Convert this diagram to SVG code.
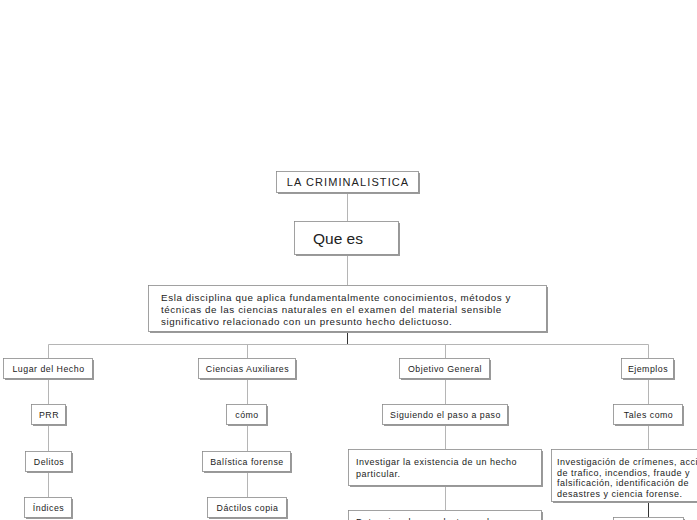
<svg xmlns="http://www.w3.org/2000/svg" width="697" height="520" viewBox="0 0 697 520">
<style>
.sh{fill:#9a9a9a}
.bx{fill:#fff;stroke:#8a8a8a;stroke-width:0.8}
.t{font-family:"Liberation Sans",Arial,sans-serif;font-size:8.8px;letter-spacing:0.5px;fill:#222;text-anchor:middle}
.tl{font-family:"Liberation Sans",Arial,sans-serif;font-size:9.8px;letter-spacing:0.6px;fill:#222}
.ts{font-size:9px;letter-spacing:0.5px}
.ln{stroke:#b5b5b5;stroke-width:1;fill:none}
.dk{stroke:#333;stroke-width:1;fill:none}
</style>
<rect width="697" height="520" fill="#fff"/>
<g id="connectors">
<line class="ln" x1="347.5" y1="192" x2="347.5" y2="221"/>
<line class="ln" x1="347.5" y1="254" x2="347.5" y2="285"/>
<line class="dk" x1="347.5" y1="331" x2="347.5" y2="344.5"/>
<line class="ln" x1="48.5" y1="344.5" x2="648.5" y2="344.5"/>
<line class="ln" x1="48.5" y1="344.5" x2="48.5" y2="358"/>
<line class="ln" x1="247.5" y1="344.5" x2="247.5" y2="358"/>
<line class="ln" x1="445.5" y1="344.5" x2="445.5" y2="358"/>
<line class="ln" x1="648.5" y1="344.5" x2="648.5" y2="358"/>
<line class="ln" x1="48.5" y1="378" x2="48.5" y2="404"/>
<line class="ln" x1="48.5" y1="424" x2="48.5" y2="451"/>
<line class="ln" x1="48.5" y1="471" x2="48.5" y2="497"/>
<line class="ln" x1="247.5" y1="378" x2="247.5" y2="404"/>
<line class="ln" x1="247.5" y1="424" x2="247.5" y2="451"/>
<line class="ln" x1="247.5" y1="471" x2="247.5" y2="497"/>
<line class="ln" x1="445.5" y1="378" x2="445.5" y2="404"/>
<line class="ln" x1="445.5" y1="424" x2="445.5" y2="449"/>
<line class="ln" x1="445.5" y1="485" x2="445.5" y2="510"/>
<line class="ln" x1="648.5" y1="378" x2="648.5" y2="404"/>
<line class="ln" x1="648.5" y1="424" x2="648.5" y2="449"/>
<line class="dk" x1="648.5" y1="501" x2="648.5" y2="517"/>
</g>
<g id="n-title"><rect class="sh" x="278" y="173" width="142" height="21"/><rect class="bx" x="276.5" y="171.5" width="142" height="21"/><text class="t" x="348" y="186" style="font-size:11px;letter-spacing:1.1px">LA CRIMINALISTICA</text></g>
<g id="n-quees"><rect class="sh" x="296" y="223" width="104" height="33"/><rect class="bx" x="294.5" y="221.5" width="104" height="33"/><text class="tl" x="313" y="243.5" style="font-size:15.5px;letter-spacing:0px">Que es</text></g>
<g id="n-def"><rect class="sh" x="150" y="287" width="398" height="46"/><rect class="bx" x="148.5" y="285.5" width="398" height="46"/>
<text class="tl" x="161" y="300.5">Esla disciplina que aplica fundamentalmente conocimientos, métodos y</text>
<text class="tl" x="161" y="312.5">técnicas de las ciencias naturales en el examen del material sensible</text>
<text class="tl" x="161" y="324.5">significativo relacionado con un presunto hecho delictuoso.</text></g>
<g id="n-lugar"><rect class="sh" x="5" y="360" width="89" height="20"/><rect class="bx" x="3.5" y="358.5" width="89" height="20"/><text class="t" x="48.5" y="371.5">Lugar del Hecho</text></g>
<g id="n-ciencias"><rect class="sh" x="200" y="360" width="97" height="20"/><rect class="bx" x="198.5" y="358.5" width="97" height="20"/><text class="t" x="247.5" y="371.5">Ciencias Auxiliares</text></g>
<g id="n-objetivo"><rect class="sh" x="401" y="360" width="90" height="20"/><rect class="bx" x="399.5" y="358.5" width="90" height="20"/><text class="t" x="445" y="371.5">Objetivo General</text></g>
<g id="n-ejemplos"><rect class="sh" x="623" y="360" width="52" height="20"/><rect class="bx" x="621.5" y="358.5" width="52" height="20"/><text class="t" x="648" y="371.5">Ejemplos</text></g>
<g id="n-prr"><rect class="sh" x="33" y="406" width="34" height="20"/><rect class="bx" x="31.5" y="404.5" width="34" height="20"/><text class="t" x="49" y="417.5">PRR</text></g>
<g id="n-como"><rect class="sh" x="228" y="406" width="40" height="20"/><rect class="bx" x="226.5" y="404.5" width="40" height="20"/><text class="t" x="247" y="417.5">cómo</text></g>
<g id="n-siguiendo"><rect class="sh" x="384" y="406" width="125" height="20"/><rect class="bx" x="382.5" y="404.5" width="125" height="20"/><text class="t" x="445.5" y="417.5">Siguiendo el paso a paso</text></g>
<g id="n-tales"><rect class="sh" x="615" y="406" width="69" height="20"/><rect class="bx" x="613.5" y="404.5" width="69" height="20"/><text class="t" x="648.5" y="417.5">Tales como</text></g>
<g id="n-delitos"><rect class="sh" x="27" y="453" width="46" height="20"/><rect class="bx" x="25.5" y="451.5" width="46" height="20"/><text class="t" x="49" y="464.5">Delitos</text></g>
<g id="n-balistica"><rect class="sh" x="204" y="453" width="88" height="20"/><rect class="bx" x="202.5" y="451.5" width="88" height="20"/><text class="t" x="247" y="464.5">Balística forense</text></g>
<g id="n-investigar"><rect class="sh" x="350" y="451" width="193" height="36"/><rect class="bx" x="348.5" y="449.5" width="193" height="36"/>
<text class="tl ts" x="356" y="465">Investigar la existencia de un hecho</text>
<text class="tl ts" x="356" y="476.5">particular.</text></g>
<g id="n-investigacion"><rect class="sh" x="553" y="451" width="150" height="52"/><rect class="bx" x="551.5" y="449.5" width="150" height="52"/>
<text class="tl ts" x="557" y="465">Investigación de crímenes, accidentes</text>
<text class="tl ts" x="557" y="475.5">de trafico, incendios, fraude y</text>
<text class="tl ts" x="557" y="486">falsificación, identificación de</text>
<text class="tl ts" x="557" y="496.5">desastres y ciencia forense.</text></g>
<g id="n-indices"><rect class="sh" x="26" y="499" width="47" height="20"/><rect class="bx" x="24.5" y="497.5" width="47" height="20"/><text class="t" x="48.5" y="510.5">Índices</text></g>
<g id="n-dactilos"><rect class="sh" x="209" y="499" width="79" height="20"/><rect class="bx" x="207.5" y="497.5" width="79" height="20"/><text class="t" x="247.5" y="510.5">Dáctilos copia</text></g>
<g id="n-determinar"><rect class="sh" x="350" y="512" width="193" height="36"/><rect class="bx" x="348.5" y="510.5" width="193" height="36"/>
<text class="tl ts" x="356" y="525">Determinar las conductas en la</text></g>
<g id="n-next"><rect class="sh" x="615" y="519" width="70" height="20"/><rect class="bx" x="613.5" y="517.5" width="70" height="20"/></g>
</svg>
